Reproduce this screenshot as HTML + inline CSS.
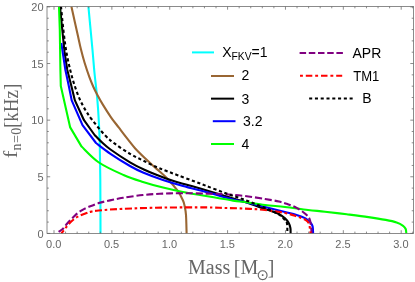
<!DOCTYPE html>
<html><head><meta charset="utf-8"><title>plot</title>
<style>html,body{margin:0;padding:0;background:#fff}svg{display:block}</style></head><body>
<svg width="415" height="282" viewBox="0 0 415 282">
<rect x="0" y="0" width="415" height="282" fill="#ffffff"/>
<defs><clipPath id="c"><rect x="47.00" y="6.50" width="366.50" height="227.30"/></clipPath></defs>
<g clip-path="url(#c)" fill="none" stroke-width="2.10" stroke-linejoin="round">
<path stroke="#00ffff" d="M88.40 6.50C89.08 13.75 91.50 39.08 92.50 50.00C93.50 60.92 93.70 64.83 94.40 72.00C95.10 79.17 96.10 87.00 96.70 93.00C97.30 99.00 97.62 102.67 98.00 108.00C98.38 113.33 98.70 118.83 99.00 125.00C99.30 131.17 99.58 135.83 99.80 145.00C100.02 154.17 100.18 165.27 100.30 180.00C100.42 194.73 100.47 224.50 100.50 233.40"/>
<path stroke="#996633" d="M71.40 6.50C71.93 8.92 73.53 16.20 74.60 21.00C75.67 25.80 76.73 30.53 77.80 35.30C78.87 40.07 79.87 45.02 81.00 49.60C82.13 54.18 83.20 58.22 84.60 62.80C86.00 67.38 87.95 73.12 89.40 77.10C90.85 81.08 91.97 83.72 93.30 86.70C94.63 89.68 95.78 91.97 97.40 95.00C99.02 98.03 100.73 101.18 103.00 104.90C105.27 108.62 108.35 113.50 111.00 117.30C113.65 121.10 116.12 124.05 118.90 127.70C121.68 131.35 125.02 135.78 127.70 139.20C130.38 142.62 132.02 144.93 135.00 148.20C137.98 151.47 142.05 155.40 145.60 158.80C149.15 162.20 152.75 165.37 156.30 168.60C159.85 171.83 163.35 174.52 166.90 178.20C170.45 181.88 174.93 187.02 177.60 190.70C180.27 194.38 181.73 197.75 182.90 200.30C184.07 202.85 184.08 203.55 184.60 206.00C185.12 208.45 185.67 210.43 186.00 215.00C186.33 219.57 186.50 230.33 186.60 233.40"/>
<path stroke="#000000" d="M60.00 6.50L62.30 30.00L64.50 51.70L67.30 70.00L71.00 84.50L74.90 100.40L84.00 120.20L94.60 135.00C95.60 136.02 97.95 138.68 100.60 141.10C103.25 143.52 105.60 145.97 110.50 149.50C115.40 153.03 124.25 158.88 130.00 162.30C135.75 165.72 140.62 167.92 145.00 170.00C149.38 172.08 152.80 173.40 156.30 174.80C159.80 176.20 162.45 177.17 166.00 178.40C169.55 179.63 172.77 180.75 177.60 182.20C182.43 183.65 190.27 185.75 195.00 187.10C199.73 188.45 201.00 188.82 206.00 190.30C211.00 191.78 218.50 194.05 225.00 196.00C231.50 197.95 238.33 199.83 245.00 202.00C251.67 204.17 260.83 207.57 265.00 209.00C269.17 210.43 267.68 209.77 270.00 210.60C272.32 211.43 276.40 212.70 278.90 214.00C281.40 215.30 283.38 216.93 285.00 218.40C286.62 219.87 287.70 221.20 288.60 222.80C289.50 224.40 290.07 226.23 290.40 228.00C290.73 229.77 290.57 232.50 290.60 233.40"/>
<path stroke="#0000ff" d="M61.30 43.00L65.40 70.00L68.50 84.50L71.70 100.40L82.50 125.20L96.00 143.00C98.42 144.80 104.83 149.97 110.50 153.80C116.17 157.63 124.58 162.88 130.00 166.00C135.42 169.12 137.50 170.17 143.00 172.50C148.50 174.83 156.33 177.75 163.00 180.00C169.67 182.25 175.83 184.00 183.00 186.00C190.17 188.00 197.67 189.77 206.00 192.00C214.33 194.23 226.50 197.73 233.00 199.40C239.50 201.07 239.67 200.73 245.00 202.00C250.33 203.27 258.33 205.33 265.00 207.00C271.67 208.67 279.73 210.67 285.00 212.00C290.27 213.33 293.18 213.93 296.60 215.00C300.02 216.07 303.27 217.23 305.50 218.40C307.73 219.57 308.82 220.67 310.00 222.00C311.18 223.33 312.08 224.50 312.60 226.40C313.12 228.30 313.02 232.23 313.10 233.40"/>
<path stroke="#00ff00" d="M59.00 6.50L59.80 30.00L60.40 70.00L60.80 86.00L70.20 127.40L81.60 146.60C84.48 149.25 91.92 157.77 98.90 162.50C105.88 167.23 116.15 171.75 123.50 175.00C130.85 178.25 136.42 179.90 143.00 182.00C149.58 184.10 156.33 185.93 163.00 187.60C169.67 189.27 175.83 190.60 183.00 192.00C190.17 193.40 197.67 194.57 206.00 196.00C214.33 197.43 226.50 199.60 233.00 200.60C239.50 201.60 239.67 201.27 245.00 202.00C250.33 202.73 258.33 204.17 265.00 205.00C271.67 205.83 277.83 206.17 285.00 207.00C292.17 207.83 301.33 209.22 308.00 210.00C314.67 210.78 318.55 210.98 325.00 211.70C331.45 212.42 339.47 213.40 346.70 214.30C353.93 215.20 361.90 216.17 368.40 217.10C374.90 218.03 381.00 219.00 385.70 219.90C390.40 220.80 393.70 221.52 396.60 222.50C399.50 223.48 401.58 224.72 403.10 225.80C404.62 226.88 405.17 227.73 405.70 229.00C406.23 230.27 406.20 232.67 406.30 233.40"/>
<path stroke="#800080" stroke-dasharray="7 2.9" stroke-dashoffset="0.4" d="M58.60 231.80C59.23 231.38 61.43 230.12 62.40 229.30C63.37 228.48 63.63 227.82 64.40 226.90C65.17 225.98 66.07 224.87 67.00 223.80C67.93 222.73 68.92 221.63 70.00 220.50C71.08 219.37 72.18 218.27 73.50 217.00C74.82 215.73 76.32 214.13 77.90 212.90C79.48 211.67 81.27 210.57 83.00 209.60C84.73 208.63 85.68 208.18 88.30 207.10C90.92 206.02 95.08 204.22 98.70 203.10C102.32 201.98 105.95 201.28 110.00 200.40C114.05 199.52 117.50 198.70 123.00 197.80C128.50 196.90 136.33 195.70 143.00 195.00C149.67 194.30 156.33 193.90 163.00 193.60C169.67 193.30 175.83 193.20 183.00 193.20C190.17 193.20 199.00 193.43 206.00 193.60C213.00 193.77 218.50 193.80 225.00 194.20C231.50 194.60 238.33 195.20 245.00 196.00C251.67 196.80 259.35 198.08 265.00 199.00C270.65 199.92 275.10 200.63 278.90 201.50C282.70 202.37 284.85 203.15 287.80 204.20C290.75 205.25 293.65 206.17 296.60 207.80C299.55 209.43 303.27 211.93 305.50 214.00C307.73 216.07 308.97 216.97 310.00 220.20C311.03 223.43 311.42 231.20 311.70 233.40"/>
<path stroke="#ff0000" stroke-dasharray="7 2.7 2.6 2.7" stroke-dashoffset="3.0" d="M61.40 233.50L61.50 233.30C62.12 232.50 63.98 230.05 65.20 228.50C66.42 226.95 67.35 225.53 68.80 224.00C70.25 222.47 72.25 220.60 73.90 219.30C75.55 218.00 76.70 217.20 78.70 216.20C80.70 215.20 83.82 214.07 85.90 213.30C87.98 212.53 89.07 212.07 91.20 211.60C93.33 211.13 93.40 210.97 98.70 210.50C104.00 210.03 112.28 209.28 123.00 208.80C133.72 208.32 149.17 207.83 163.00 207.60C176.83 207.37 195.67 207.33 206.00 207.40C216.33 207.47 218.50 207.80 225.00 208.00C231.50 208.20 238.33 208.27 245.00 208.60C251.67 208.93 258.33 209.27 265.00 210.00C271.67 210.73 279.73 211.95 285.00 213.00C290.27 214.05 293.18 215.17 296.60 216.30C300.02 217.43 303.43 218.57 305.50 219.80C307.57 221.03 308.17 221.43 309.00 223.70C309.83 225.97 310.25 231.78 310.50 233.40"/>
<path stroke="#000000" stroke-dasharray="3.2 2.6" d="M61.00 6.50C61.40 10.42 62.53 22.58 63.40 30.00C64.27 37.42 65.07 44.33 66.20 51.00C67.33 57.67 68.85 64.42 70.20 70.00C71.55 75.58 72.73 79.68 74.30 84.50C75.87 89.32 77.75 94.65 79.60 98.90C81.45 103.15 83.35 106.57 85.40 110.00C87.45 113.43 88.68 115.33 91.90 119.50C95.12 123.67 100.88 130.97 104.70 135.00C108.52 139.03 110.58 140.57 114.80 143.70C119.02 146.83 125.30 151.00 130.00 153.80C134.70 156.60 138.62 158.30 143.00 160.50C147.38 162.70 152.47 165.28 156.30 167.00C160.13 168.72 162.45 169.43 166.00 170.80C169.55 172.17 172.77 173.40 177.60 175.20C182.43 177.00 190.27 179.83 195.00 181.60C199.73 183.37 201.00 183.90 206.00 185.80C211.00 187.70 218.50 190.63 225.00 193.00C231.50 195.37 238.33 197.50 245.00 200.00C251.67 202.50 259.50 205.67 265.00 208.00C270.50 210.33 274.83 212.17 278.00 214.00C281.17 215.83 282.52 217.50 284.00 219.00C285.48 220.50 286.33 220.60 286.90 223.00C287.47 225.40 287.32 231.67 287.40 233.40"/>
</g>
<g stroke="#666666" stroke-width="0.75" fill="none">
<rect x="47.00" y="6.50" width="366.50" height="226.90"/>
<path d="M54.00 233.40v-3.20M54.00 6.50v3.20M65.57 233.40v-1.80M65.57 6.50v1.80M77.15 233.40v-1.80M77.15 6.50v1.80M88.72 233.40v-1.80M88.72 6.50v1.80M100.29 233.40v-1.80M100.29 6.50v1.80M111.87 233.40v-3.20M111.87 6.50v3.20M123.44 233.40v-1.80M123.44 6.50v1.80M135.01 233.40v-1.80M135.01 6.50v1.80M146.58 233.40v-1.80M146.58 6.50v1.80M158.16 233.40v-1.80M158.16 6.50v1.80M169.73 233.40v-3.20M169.73 6.50v3.20M181.30 233.40v-1.80M181.30 6.50v1.80M192.88 233.40v-1.80M192.88 6.50v1.80M204.45 233.40v-1.80M204.45 6.50v1.80M216.02 233.40v-1.80M216.02 6.50v1.80M227.59 233.40v-3.20M227.59 6.50v3.20M239.17 233.40v-1.80M239.17 6.50v1.80M250.74 233.40v-1.80M250.74 6.50v1.80M262.31 233.40v-1.80M262.31 6.50v1.80M273.89 233.40v-1.80M273.89 6.50v1.80M285.46 233.40v-3.20M285.46 6.50v3.20M297.03 233.40v-1.80M297.03 6.50v1.80M308.61 233.40v-1.80M308.61 6.50v1.80M320.18 233.40v-1.80M320.18 6.50v1.80M331.75 233.40v-1.80M331.75 6.50v1.80M343.32 233.40v-3.20M343.32 6.50v3.20M354.90 233.40v-1.80M354.90 6.50v1.80M366.47 233.40v-1.80M366.47 6.50v1.80M378.04 233.40v-1.80M378.04 6.50v1.80M389.62 233.40v-1.80M389.62 6.50v1.80M401.19 233.40v-3.20M401.19 6.50v3.20M412.76 233.40v-1.80M412.76 6.50v1.80M47.00 233.40h3.20M413.50 233.40h-3.20M47.00 222.08h1.80M413.50 222.08h-1.80M47.00 210.75h1.80M413.50 210.75h-1.80M47.00 199.43h1.80M413.50 199.43h-1.80M47.00 188.10h1.80M413.50 188.10h-1.80M47.00 176.78h3.20M413.50 176.78h-3.20M47.00 165.45h1.80M413.50 165.45h-1.80M47.00 154.12h1.80M413.50 154.12h-1.80M47.00 142.80h1.80M413.50 142.80h-1.80M47.00 131.48h1.80M413.50 131.48h-1.80M47.00 120.15h3.20M413.50 120.15h-3.20M47.00 108.83h1.80M413.50 108.83h-1.80M47.00 97.50h1.80M413.50 97.50h-1.80M47.00 86.18h1.80M413.50 86.18h-1.80M47.00 74.85h1.80M413.50 74.85h-1.80M47.00 63.53h3.20M413.50 63.53h-3.20M47.00 52.20h1.80M413.50 52.20h-1.80M47.00 40.88h1.80M413.50 40.88h-1.80M47.00 29.55h1.80M413.50 29.55h-1.80M47.00 18.23h1.80M413.50 18.23h-1.80M47.00 6.90h3.20M413.50 6.90h-3.20"/>
</g>
<g font-family="'Liberation Sans', Arial, sans-serif" font-size="11" fill="#666666">
<text x="53.70" y="247.9" text-anchor="middle">0.0</text>
<text x="111.57" y="247.9" text-anchor="middle">0.5</text>
<text x="169.43" y="247.9" text-anchor="middle">1.0</text>
<text x="227.29" y="247.9" text-anchor="middle">1.5</text>
<text x="285.16" y="247.9" text-anchor="middle">2.0</text>
<text x="343.02" y="247.9" text-anchor="middle">2.5</text>
<text x="400.89" y="247.9" text-anchor="middle">3.0</text>
<text x="43.6" y="237.70" text-anchor="end">0</text>
<text x="43.6" y="181.08" text-anchor="end">5</text>
<text x="43.6" y="124.45" text-anchor="end">10</text>
<text x="43.6" y="67.83" text-anchor="end">15</text>
<text x="43.6" y="11.20" text-anchor="end">20</text>
</g>
<g font-family="'Liberation Serif', 'Times New Roman', serif" fill="#666666">
<text y="274.1" font-size="20"><tspan x="188.0">Mass</tspan><tspan x="233.8">[M</tspan><tspan x="256.6" y="280.1" font-family="'DejaVu Sans', sans-serif" font-size="15">⊙</tspan><tspan x="267.7" y="274.1">]</tspan></text>
<text transform="translate(17.3 158.6) rotate(-90)" font-size="19.5"><tspan x="0.3" y="0" textLength="7.6" lengthAdjust="spacingAndGlyphs">f</tspan><tspan x="8.0" y="4" font-size="14" letter-spacing="0.5">n=0</tspan><tspan x="30.6" y="0.3" font-size="20.6" textLength="44.3" lengthAdjust="spacingAndGlyphs">[kHz]</tspan></text>
</g>
<g fill="none" stroke-width="2.0">
<path stroke="#00ffff" d="M192 52.4H214"/>
<path stroke="#996633" d="M211 76H234"/>
<path stroke="#000000" d="M211 98.65H234.1"/>
<path stroke="#0000ff" d="M212.8 121.2H235.5"/>
<path stroke="#00ff00" d="M211 144H234"/>
<path stroke="#800080" stroke-dasharray="6.5 2.7" d="M299.6 53.05H343"/>
<path stroke="#ff0000" stroke-dasharray="2.9 2.9 6.5 2.9" d="M300 75.85H342.2"/>
<path stroke="#000000" stroke-dasharray="3.05 2.73" d="M309.15 98.6H353"/>
</g>
<g font-family="'Liberation Sans', Arial, sans-serif" font-size="14" fill="#000000">
<text x="222.2" y="56.7">X<tspan font-size="10.3" dy="2.9">FKV</tspan><tspan dy="-2.9">=1</tspan></text>
<text x="241.6" y="80.3">2</text>
<text x="241.4" y="103.6">3</text>
<text x="243.0" y="126.1">3.2</text>
<text x="241.5" y="148.8">4</text>
<text x="352.5" y="57.8">APR</text>
<text x="353.2" y="80.9" textLength="26.1" lengthAdjust="spacingAndGlyphs">TM1</text>
<text x="362.2" y="103.2">B</text>
</g>
</svg></body></html>
